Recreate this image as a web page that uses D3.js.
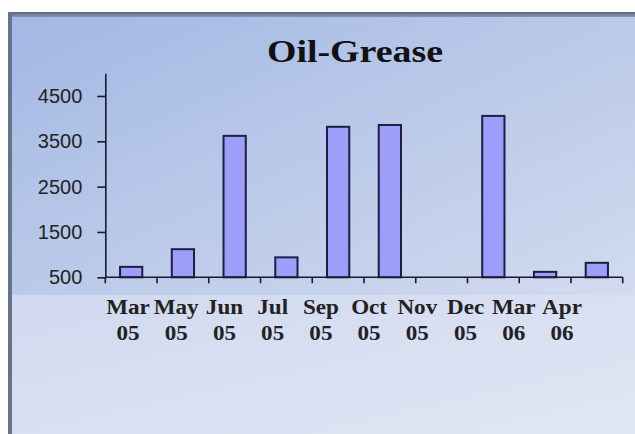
<!DOCTYPE html>
<html>
<head>
<meta charset="utf-8">
<script src="https://cdn.jsdelivr.net/npm/d3@7"></script>
<style>
  html, body { margin: 0; padding: 0; background: #fff; }
  svg { display: block; }
</style>
</head>
<body>
<svg width="635" height="434"></svg>
<script>
const svg = d3.select("svg");
const width = +svg.attr("width");
const height = +svg.attr("height");

// Chart data
const months = ["Mar", "May", "Jun", "Jul", "Sep", "Oct", "Nov", "Dec", "Mar", "Apr"];
const years = ["05", "05", "05", "05", "05", "05", "05", "05", "06", "06"];
const values = [730, 1120, 3620, 940, 3820, 3860, null, 4060, 620, 820]; // Nov 05 has no visible bar
const yTicks = [500, 1500, 2500, 3500, 4500];

const categories = months.map((m, i) => m + " " + years[i] + "#" + i);

// Background: gradient frame like the slide
const defs = svg.append("defs");
const topGrad = defs.append("linearGradient")
    .attr("id", "topGrad")
    .attr("x1", 0).attr("y1", 0).attr("x2", 1).attr("y2", 1);
topGrad.append("stop").attr("offset", "0%").attr("stop-color", "#a2b8e3");
topGrad.append("stop").attr("offset", "100%").attr("stop-color", "#d2dbef");

const lowGrad = defs.append("linearGradient")
    .attr("id", "lowGrad")
    .attr("x1", 0).attr("y1", 0).attr("x2", 1).attr("y2", 1);
lowGrad.append("stop").attr("offset", "0%").attr("stop-color", "#d0d9ef");
lowGrad.append("stop").attr("offset", "100%").attr("stop-color", "#e0e6f4");

const borderGrad = defs.append("linearGradient")
    .attr("id", "borderGrad")
    .attr("x1", 0).attr("y1", 0).attr("x2", 0).attr("y2", 1);
borderGrad.append("stop").attr("offset", "0%").attr("stop-color", "#55647e");
borderGrad.append("stop").attr("offset", "100%").attr("stop-color", "#8a97ad");

svg.append("rect")
    .attr("x", 12).attr("y", 16)
    .attr("width", width - 12).attr("height", 279)
    .attr("fill", "url(#topGrad)");
svg.append("rect")
    .attr("x", 12).attr("y", 295)
    .attr("width", width - 12).attr("height", height - 295)
    .attr("fill", "url(#lowGrad)");

// frame edges
svg.append("rect")
    .attr("x", 8).attr("y", 12)
    .attr("width", width - 8).attr("height", 5)
    .attr("fill", "url(#borderGrad)");
svg.append("rect")
    .attr("x", 8).attr("y", 12)
    .attr("width", 4).attr("height", height - 12)
    .attr("fill", "#65738c");

// Scales
const x = d3.scaleBand()
    .domain(categories)
    .range([105.3, 622.7])
    .paddingInner(0.57)
    .paddingOuter(0.285);

const y = d3.scaleLinear()
    .domain([500, 5000])
    .range([277.3, 73.3]);

// label positions (the category text sits a bit left of the bars in the original)
const labelX = d3.scalePoint()
    .domain(categories)
    .range([128, 562]);

// Title
svg.append("text")
    .attr("x", 267)
    .attr("y", 62)
    .attr("textLength", 176)
    .attr("lengthAdjust", "spacingAndGlyphs")
    .style("font-family", "'Liberation Serif', 'Times New Roman', serif")
    .style("font-weight", "bold")
    .style("font-size", "32px")
    .style("fill", "#111")
    .text("Oil-Grease");

// Bars
svg.selectAll(".bar")
    .data(values.map((v, i) => ({ cat: categories[i], v: v })).filter(d => d.v != null))
    .enter()
    .append("rect")
    .attr("class", "bar")
    .attr("x", d => x(d.cat))
    .attr("y", d => y(d.v))
    .attr("width", x.bandwidth())
    .attr("height", d => y(500) - y(d.v))
    .attr("fill", "#9d9ef9")
    .attr("stroke", "#1d1d45")
    .attr("stroke-width", 2);

// Y axis
const yAxis = svg.append("g")
    .attr("transform", "translate(105.3,0)")
    .call(d3.axisLeft(y)
        .tickValues(yTicks)
        .tickSize(8)
        .tickSizeOuter(0)
        .tickPadding(15)
        .tickFormat(d3.format("d")));
yAxis.select(".domain").attr("stroke", "#1a1a2e").attr("stroke-width", 1.6);
yAxis.selectAll(".tick line").attr("stroke", "#1a1a2e").attr("stroke-width", 1.6);
yAxis.selectAll(".tick text")
    .style("font-family", "'Liberation Sans', Arial, sans-serif")
    .style("font-size", "20px")
    .style("fill", "#222");

// X axis line and boundary ticks
const xAxis = svg.append("g");
xAxis.append("line")
    .attr("x1", x.range()[0]).attr("x2", x.range()[1])
    .attr("y1", y(500)).attr("y2", y(500))
    .attr("stroke", "#1a1a2e")
    .attr("stroke-width", 1.6);

const boundaries = categories.map(c => x(c) - x.step() * x.paddingOuter())
    .concat([x.range()[1]]);
xAxis.selectAll(".xtick")
    .data(boundaries)
    .enter()
    .append("line")
    .attr("class", "xtick")
    .attr("x1", d => d).attr("x2", d => d)
    .attr("y1", y(500)).attr("y2", y(500) + 6)
    .attr("stroke", "#1a1a2e")
    .attr("stroke-width", 1.6);

// category labels, two lines
const labels = xAxis.selectAll(".xlabel")
    .data(categories)
    .enter()
    .append("g")
    .attr("class", "xlabel")
    .attr("transform", d => "translate(" + labelX(d) + ",0) scale(1.1,1)");

labels.append("text")
    .attr("y", 314)
    .attr("text-anchor", "middle")
    .style("font-family", "'Liberation Serif', 'Times New Roman', serif")
    .style("font-weight", "bold")
    .style("font-size", "21px")
    .style("fill", "#222")
    .text((d, i) => months[i]);

labels.append("text")
    .attr("y", 340)
    .attr("text-anchor", "middle")
    .style("font-family", "'Liberation Serif', 'Times New Roman', serif")
    .style("font-weight", "bold")
    .style("font-size", "21px")
    .style("fill", "#222")
    .text((d, i) => years[i]);
</script>
</body>
</html>
